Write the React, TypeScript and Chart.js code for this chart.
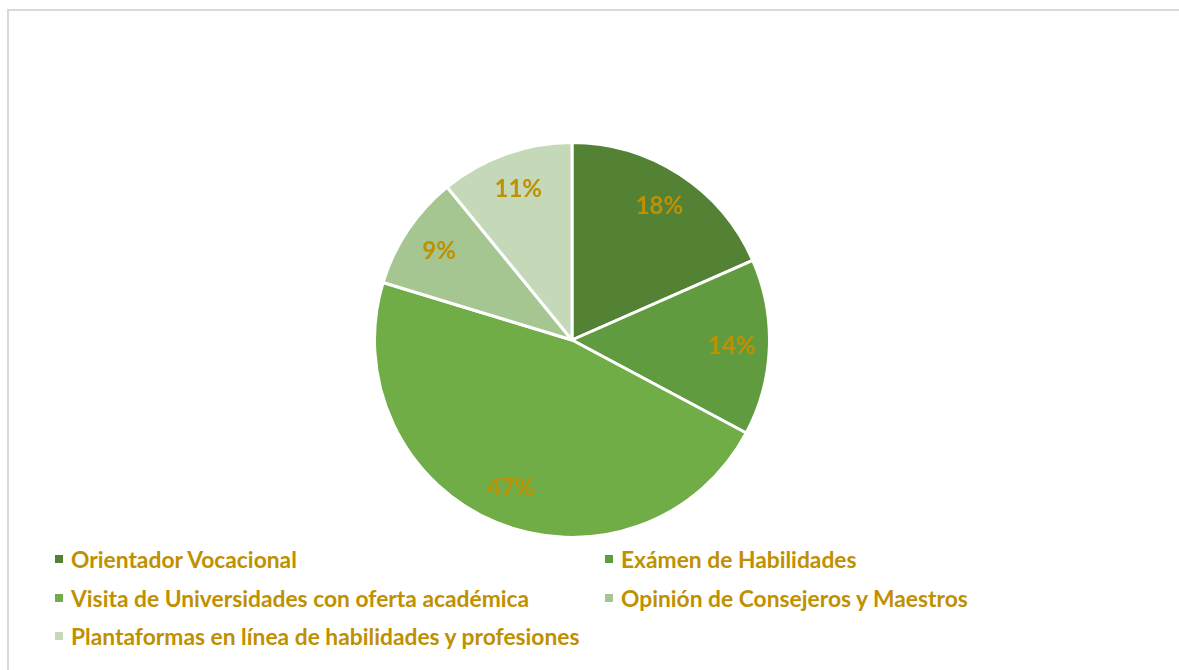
import React, { useEffect, useRef } from "react";
import { Chart, registerables } from "chart.js";

Chart.register(...registerables);

const categories = [
  "Orientador Vocacional",
  "Exámen de Habilidades",
  "Visita de Universidades con oferta académica",
  "Opinión de Consejeros y Maestros",
  "Plantaformas en línea de habilidades y profesiones",
];
const values = [18.4, 14.4, 46.9, 9.4, 10.9];
const colors = ["#548235", "#619B3F", "#70AD47", "#A5C690", "#C5D9B9"];
const labelColor = "#BF9000";
const fontFamily = "Lato, 'Noto Sans', sans-serif";

const pctLabels = {
  id: "pctLabels",
  afterDatasetsDraw(chart: any) {
    const ctx = chart.ctx;
    const meta = chart.getDatasetMeta(0);
    const data = chart.data.datasets[0].data as number[];
    const total = data.reduce((a, b) => a + b, 0);
    ctx.save();
    ctx.fillStyle = labelColor;
    ctx.font = `bold 24px ${fontFamily}`;
    ctx.textAlign = "center";
    ctx.textBaseline = "middle";
    meta.data.forEach((arc: any, i: number) => {
      const mid = (arc.startAngle + arc.endAngle) / 2;
      const r = arc.outerRadius * 0.81;
      const x = arc.x + Math.cos(mid) * r;
      const y = arc.y + Math.sin(mid) * r;
      ctx.fillText(Math.round((data[i] / total) * 100) + "%", x, y);
    });
    ctx.restore();
  },
};

export default function App() {
  const ref = useRef<HTMLCanvasElement>(null);
  useEffect(() => {
    const chart = new Chart(ref.current!, {
      type: "pie",
      data: {
        labels: categories,
        datasets: [
          {
            data: values,
            backgroundColor: colors,
            borderColor: "#ffffff",
            borderWidth: 3,
          },
        ],
      },
      options: {
        animation: false,
        responsive: false,
        maintainAspectRatio: false,
        layout: { padding: 1 },
        plugins: {
          legend: { display: false },
          tooltip: { enabled: false },
        },
      },
      plugins: [pctLabels],
    });
    return () => chart.destroy();
  }, []);

  return (
    <div
      style={{
        position: "fixed",
        left: 7,
        top: 9,
        width: 1172,
        height: 661,
        borderTop: "2px solid #d9d9d9",
        borderLeft: "2px solid #d9d9d9",
        background: "#fff",
        overflow: "hidden",
        fontFamily,
      }}
    >
      <canvas
        ref={ref}
        width={400}
        height={400}
        style={{ position: "absolute", left: 372 - 9, top: 140 - 11, width: 400, height: 400 }}
      />
      {categories.map((c, i) => {
        const row = Math.floor(i / 2);
        const col = i % 2;
        return (
          <div
            key={c}
            style={{
              position: "absolute",
              left: (col === 0 ? 55 : 605) - 9,
              top: 547 - 11 + row * 38.5,
              height: 24,
              display: "flex",
              alignItems: "center",
              whiteSpace: "nowrap",
            }}
          >
            <span
              style={{
                display: "inline-block",
                width: 8,
                height: 8,
                background: colors[i],
                marginRight: 8,
              }}
            />
            <span style={{ color: labelColor, fontWeight: 700, fontSize: 22.8 }}>{c}</span>
          </div>
        );
      })}
    </div>
  );
}
